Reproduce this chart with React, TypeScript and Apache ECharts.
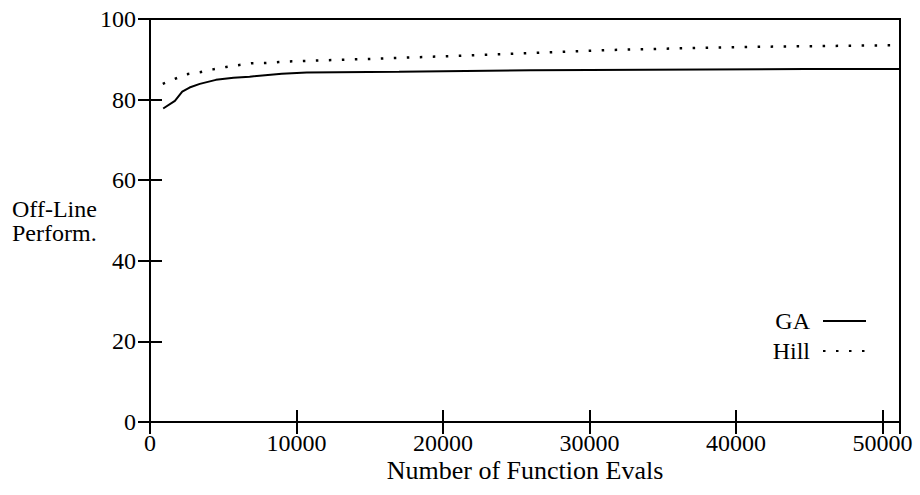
import React, { useEffect, useRef } from "react";
import * as echarts from "echarts";

const xTicks = [0, 10000, 20000, 30000, 40000, 50000];
const yTicks = [0, 20, 40, 60, 80, 100];

const gaEvals = [900, 1700, 2200, 2700, 3400, 4500, 5700, 6800, 9000, 10700, 17000, 26000, 44800, 51200];
const gaValues = [77.8, 79.7, 82.0, 83.0, 83.9, 84.9, 85.4, 85.7, 86.4, 86.7, 86.9, 87.3, 87.6, 87.6];

const hillEvals = [870, 1600, 2500, 3400, 4300, 5200, 6100, 6900, 7900, 8800, 9700, 10600, 15000, 20500, 25000, 31400, 36000, 41400, 46000, 51200];
const hillValues = [83.9, 85.0, 86.3, 86.8, 87.5, 88.1, 88.6, 89.0, 89.1, 89.3, 89.5, 89.6, 90.1, 90.8, 91.4, 92.3, 92.7, 93.1, 93.3, 93.5];

const FONT = "Liberation Serif";

export default function App() {
  const ref = useRef<HTMLDivElement>(null);
  useEffect(() => {
    if (!ref.current) return;
    const chart = echarts.init(ref.current, undefined, { renderer: "svg" });
    const xMin = xTicks[0];
    const xMax = 51200;
    const yMin = yTicks[0];
    const yMax = yTicks[yTicks.length - 1];
    const tickStyle = { show: true, inside: true, length: 12, lineStyle: { color: "#000", width: 2 } };
    const labelFmt = (v: number) => (xTicks.includes(v) ? String(v) : "");
    chart.setOption({
      animation: false,
      backgroundColor: "#fff",
      grid: { left: 150, right: 20, top: 19, bottom: 73, show: true, borderColor: "#000", borderWidth: 2, backgroundColor: "transparent" },
      legend: {
        orient: "vertical",
        right: 48,
        top: 304,
        align: "right",
        itemWidth: 43,
        itemHeight: 14,
        itemGap: 6,
        itemStyle: { opacity: 0 },
        textStyle: { fontFamily: FONT, fontSize: 24, color: "#000", padding: [0, 8, 0, 0] },
        data: ["GA", "Hill"],
      },
      xAxis: [
        {
          type: "value",
          min: xMin,
          max: xMax,
          interval: 10000,
          axisLine: { show: true, lineStyle: { color: "#000", width: 2 } },
          axisTick: tickStyle,
          splitLine: { show: false },
          axisLabel: { color: "#000", fontFamily: FONT, fontSize: 24, lineHeight: 18, margin: 12, formatter: labelFmt },
          name: "Number of Function Evals",
          nameLocation: "middle",
          nameGap: 35,
          nameMoveOverlap: false,
          nameTextStyle: { color: "#000", fontFamily: FONT, fontSize: 26, lineHeight: 26 },
        },
        {
          type: "value",
          position: "top",
          min: xMin,
          max: xMax,
          interval: 10000,
          axisLine: { show: true, lineStyle: { color: "#000", width: 2 } },
          axisTick: tickStyle,
          splitLine: { show: false },
          axisLabel: { show: false },
        },
      ],
      yAxis: [
        {
          type: "value",
          min: yMin,
          max: yMax,
          interval: 20,
          axisLine: { show: true, lineStyle: { color: "#000", width: 2 } },
          axisTick: tickStyle,
          splitLine: { show: false },
          axisLabel: { color: "#000", fontFamily: FONT, fontSize: 24, margin: 14 },
          name: "Off-Line\nPerform.",
          nameLocation: "middle",
          nameRotate: 0,
          nameGap: 138,
          nameMoveOverlap: false,
          nameTextStyle: { color: "#000", fontFamily: FONT, fontSize: 24, align: "left", lineHeight: 24 },
        },
        {
          type: "value",
          position: "right",
          min: yMin,
          max: yMax,
          interval: 20,
          axisLine: { show: true, lineStyle: { color: "#000", width: 2 } },
          axisTick: tickStyle,
          splitLine: { show: false },
          axisLabel: { show: false },
        },
      ],
      series: [
        {
          name: "GA",
          type: "line",
          symbol: "none",
          data: gaEvals.map((x, i) => [x, gaValues[i]]),
          lineStyle: { color: "#000", width: 2 },
          itemStyle: { color: "#000" },
        },
        {
          name: "Hill",
          type: "line",
          symbol: "none",
          data: hillEvals.map((x, i) => [x, hillValues[i]]),
          lineStyle: { color: "#000", width: 2.5, type: [2.5, 10.5], cap: "butt" },
          itemStyle: { color: "#000" },
        },
      ],
    });
    return () => chart.dispose();
  }, []);
  return <div ref={ref} style={{ width: 920, height: 495, position: "absolute", left: 0, top: 0 }} />;
}
